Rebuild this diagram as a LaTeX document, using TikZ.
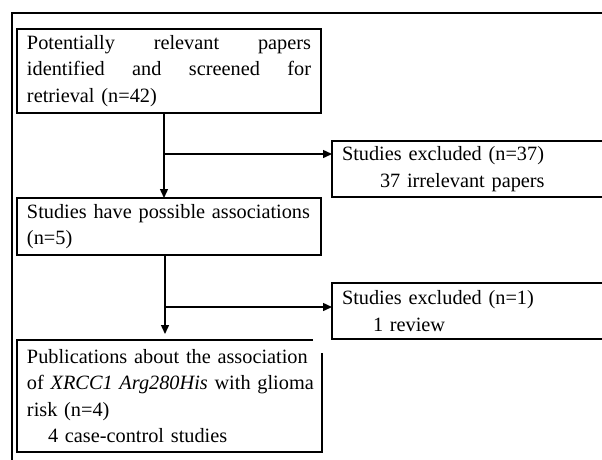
\documentclass[tikz,border=0pt]{standalone}
\usepackage{fontspec}
\setmainfont{Liberation Serif}
\usetikzlibrary{arrows.meta}
\newcommand{\spreadline}[1]{\leavevmode\hbox to \linewidth{#1}}
\begin{document}
\begin{tikzpicture}[x=1pt,y=-1pt,
  every node/.style={font=\fontsize{20.3}{26.5}\selectfont, outer sep=0pt},
  box/.style={draw, line width=1.3pt, anchor=north west, inner xsep=10pt, inner ysep=0pt, align=left},
  arr/.style={line width=1.4pt, -{Triangle[length=9pt,width=8pt]}},
  frame/.style={line width=2.4pt}]
\useasboundingbox (0,0) rectangle (602,459);
\clip (0,0) rectangle (602,459);
% outer frame (cropped)
\coordinate (fa) at (12,470);
\coordinate (fb) at (12,13);
\coordinate (fc) at (620,13);
\draw[frame] (fa) -- (fb) -- (fc);
% boxes
\node[box, minimum width=304pt, minimum height=84pt, text width=284pt] (b1) at (17,29)
  {\spreadline{Potentially\hfill relevant\hfill papers}\\
   \spreadline{identified\hfill and\hfill screened\hfill for}\\
   retrieval (n=42)};
\node[box, minimum width=304pt, minimum height=57pt, text width=284pt] (b2) at (17,198)
  {\mbox{Studies have possible associations}\\(n=5)};
\node[box, draw=none, minimum width=305pt, minimum height=112pt, text width=285pt] (b3) at (17,340)
  {\mbox{Publications about the association}\\
   \mbox{of \textit{XRCC1 Arg280His} with glioma}\\
   risk (n=4)\\
   \hspace*{21pt}4 case-control studies};
\draw[line width=1.3pt] ([xshift=-9pt]b3.north east) -- (b3.north west) -- (b3.south west) -- (b3.south east) -- ([yshift=-13pt]b3.north east);
\node[box, minimum width=300pt, minimum height=56pt, text width=280pt] (b4) at (332,141)
  {Studies excluded (n=37)\\\hspace*{38pt}37 irrelevant papers};
\node[box, minimum width=300pt, minimum height=56pt, text width=280pt] (b5) at (332,283)
  {Studies excluded (n=1)\\\hspace*{31pt}1 review};
% connectors
\coordinate (c1) at (164,154);
\coordinate (c2) at (165,307);
\draw[arr] (b1.south -| c1) -- (b2.north -| c1);
\draw[arr] (c1) -- (c1 -| b4.west);
\draw[arr, shorten >=6pt] (b2.south -| c2) -- (b3.north -| c2);
\draw[arr] (c2) -- (c2 -| b5.west);
\end{tikzpicture}
\end{document}
